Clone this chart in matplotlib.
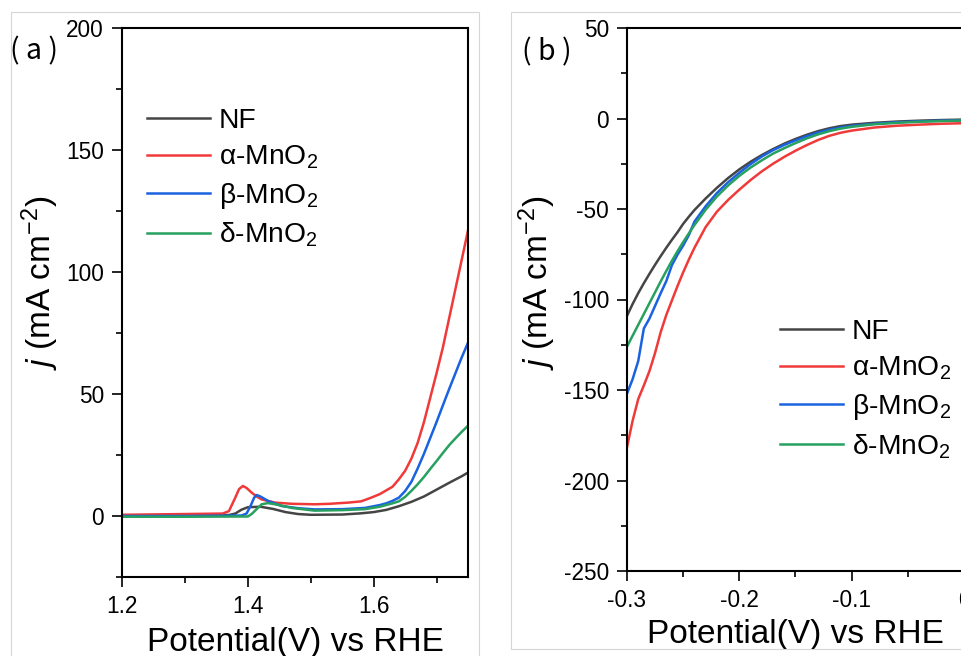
import matplotlib
matplotlib.use('Agg')
import matplotlib.pyplot as plt
from matplotlib.patches import Rectangle

plt.rcParams['font.family'] = ['Liberation Sans', 'DejaVu Sans']
plt.rcParams['mathtext.fontset'] = 'custom'
plt.rcParams['mathtext.rm'] = 'Liberation Sans'
plt.rcParams['mathtext.it'] = 'Liberation Sans:italic'

labels = ['NF', 'α-MnO$_2$', 'β-MnO$_2$', 'δ-MnO$_2$']
colors = ['#454545', '#f03a3a', '#1a62e0', '#27a060']

# (a) OER polarisation curves
oer_nf_x = [1.20, 1.30, 1.37, 1.38, 1.39, 1.40, 1.42, 1.44, 1.46, 1.48, 1.50, 1.55, 1.58,
            1.60, 1.62, 1.64, 1.66, 1.68, 1.70, 1.72, 1.74, 1.75]
oer_nf_y = [0.2, 0.3, 0.4, 1.0, 2.6, 3.6, 3.8, 2.9, 1.6, 0.8, 0.5, 0.6, 1.1,
            1.6, 2.5, 4.0, 5.8, 8.0, 10.8, 13.6, 16.3, 17.8]

oer_a_x = [1.20, 1.30, 1.36, 1.37, 1.38, 1.386, 1.392, 1.398, 1.406, 1.414, 1.422, 1.443, 1.47,
           1.506, 1.53, 1.56, 1.58, 1.596, 1.61, 1.63, 1.64, 1.65, 1.66, 1.67, 1.68, 1.69,
           1.70, 1.71, 1.72, 1.73, 1.74, 1.75]
oer_a_y = [0.5, 0.8, 1.0, 2.0, 7.5, 11.0, 12.3, 11.5, 9.6, 8.0, 6.8, 5.5, 5.0,
           4.8, 5.0, 5.5, 6.0, 7.5, 9.0, 12.0, 15.0, 18.5, 23.5, 30.0, 38.5, 48.5,
           58.5, 69.0, 81.0, 93.0, 105.0, 117.0]

oer_b_x = [1.20, 1.30, 1.39, 1.398, 1.405, 1.41, 1.414, 1.42, 1.432, 1.4535, 1.48, 1.506, 1.55,
           1.586, 1.61, 1.62, 1.63, 1.64, 1.65, 1.66, 1.67, 1.68, 1.69, 1.70, 1.71, 1.72,
           1.73, 1.74, 1.75]
oer_b_y = [0.0, 0.0, 0.2, 1.0, 4.5, 7.5, 8.6, 8.0, 6.2, 4.1, 3.2, 2.7, 2.8,
           3.3, 4.5, 5.2, 6.2, 7.5, 10.2, 14.0, 19.5, 25.5, 32.0, 38.5, 45.3, 52.0,
           58.5, 65.0, 71.0]

oer_d_x = [1.20, 1.30, 1.40, 1.406, 1.414, 1.422, 1.432, 1.45, 1.47, 1.506, 1.55, 1.586, 1.61,
           1.62, 1.63, 1.64, 1.65, 1.66, 1.67, 1.68, 1.69, 1.70, 1.71, 1.72, 1.73, 1.74, 1.75]
oer_d_y = [-0.3, -0.3, -0.2, 0.8, 2.8, 4.8, 5.3, 4.5, 3.3, 2.2, 2.4, 2.8, 3.8,
           4.5, 5.2, 6.0, 7.8, 10.3, 13.0, 16.0, 19.3, 22.5, 25.8, 29.0, 31.8, 34.5, 37.0]

# (b) HER polarisation curves
her_x = [-0.300, -0.295, -0.290, -0.285, -0.280, -0.275, -0.270, -0.265, -0.260, -0.255,
         -0.250, -0.245, -0.240, -0.230, -0.220, -0.210, -0.200, -0.190, -0.180, -0.170,
         -0.160, -0.150, -0.140, -0.130, -0.120, -0.110, -0.100, -0.080, -0.060, -0.040,
         -0.020, 0.000]
her_nf = [-109, -102.5, -96.5, -91, -85.8, -80.8, -76, -71.4, -67, -62.8,
          -58.2, -54.3, -50.6, -44.2, -38.3, -32.9, -28.1, -23.9, -20.2, -16.9,
          -13.9, -11.3, -9.0, -7.0, -5.4, -4.2, -3.4, -2.4, -1.7, -1.2,
          -0.85, -0.6]
her_a = [-181.6, -167, -155, -147.5, -139.5, -129.5, -118, -108.5, -100.5, -92.5,
         -85, -78, -71.5, -60, -51.5, -45, -39.3, -34, -29.2, -25,
         -21.2, -17.8, -14.7, -11.9, -9.6, -7.9, -6.7, -5.0, -4.0, -3.4,
         -2.9, -2.6]
her_b = [-152, -144, -134, -116, -110.5, -103.5, -96.5, -89.8, -81, -75.2,
         -70.2, -64.5, -57, -48.5, -41.2, -35.2, -30, -25.2, -21, -17.5,
         -14.6, -12.1, -9.8, -7.8, -6.2, -5.0, -4.1, -2.9, -2.1, -1.6,
         -1.2, -1.0]
her_d = [-126, -120, -114, -108, -102, -96, -90, -84.2, -78.6, -73.3,
         -68.3, -63.5, -58.9, -50.4, -43.1, -37, -31.7, -27.1, -23.1, -19.4,
         -16.4, -13.6, -11.0, -8.8, -7.0, -5.6, -4.6, -3.2, -2.4, -1.8,
         -1.4, -1.1]


def style_axes(ax):
    for s in ax.spines.values():
        s.set_linewidth(1.5)
    ax.tick_params(which='both', direction='out', top=False, right=False,
                   labelsize=16.3, width=1.2)
    ax.tick_params(which='major', length=7, pad=6)
    ax.tick_params(which='minor', length=4)


fig = plt.figure(figsize=(9.62, 6.56), dpi=100)

# light grey panel frames
fig.add_artist(Rectangle((11 / 962, -0.05), 468 / 962, 644 / 656 + 0.05, transform=fig.transFigure,
                         fill=False, edgecolor='#d6d6d6', linewidth=0.8))
fig.add_artist(Rectangle((511 / 962, 7 / 656), 0.6, 637 / 656, transform=fig.transFigure,
                         fill=False, edgecolor='#d6d6d6', linewidth=0.8))

ax1 = fig.add_axes([122 / 962, 79 / 656, 346 / 962, 549 / 656])
for xs, ys, lab, c in zip([oer_nf_x, oer_a_x, oer_b_x, oer_d_x],
                          [oer_nf_y, oer_a_y, oer_b_y, oer_d_y], labels, colors):
    ax1.plot(xs, ys, color=c, linewidth=1.8, label=lab)
ax1.set_xlim(1.2, 1.75)
ax1.set_ylim(-25, 200)
ax1.set_xticks([1.2, 1.4, 1.6])
ax1.set_xticks([1.3, 1.5, 1.7], minor=True)
ax1.set_yticks([0, 50, 100, 150, 200])
ax1.set_yticks([-25, 25, 75, 125, 175], minor=True)
style_axes(ax1)
ax1.set_xlabel('Potential(V) vs RHE', fontsize=24)
ax1.set_ylabel('$j$ (mA cm$^{-2}$)', fontsize=24)
ax1.yaxis.set_label_coords(-0.176, 0.535)
ax1.xaxis.set_label_coords(0.5, -0.0905)
ax1.xaxis.label.set_va('top')
ax1.legend(loc='upper left', bbox_to_anchor=(0.072, 0.855), frameon=False, fontsize=20.3,
           handlelength=2.25, handletextpad=0.3, labelspacing=0.35, borderpad=0, borderaxespad=0)
fig.text(34 / 962, 1 - 51 / 656, '( a )', fontsize=20.5, ha='center', va='center',
         family=['Noto Sans CJK SC', 'DejaVu Sans'])

ax2 = fig.add_axes([627 / 962, 85 / 656, 337 / 962, 543 / 656])
for ys, lab, c in zip([her_nf, her_a, her_b, her_d], labels, colors):
    ax2.plot(her_x, ys, color=c, linewidth=1.8, label=lab)
ax2.set_xlim(-0.3, 0.0)
ax2.set_ylim(-250, 50)
ax2.set_xticks([-0.3, -0.2, -0.1, 0.0])
ax2.set_xticks([-0.25, -0.15, -0.05], minor=True)
ax2.set_xticklabels(['-0.3', '-0.2', '-0.1', '0'])
ax2.set_yticks([-250, -200, -150, -100, -50, 0, 50])
ax2.set_yticks([-225, -175, -125, -75, -25, 25], minor=True)
ax2.set_yticklabels(['-250', '-200', '-150', '-100', '-50', '0', '50'])
style_axes(ax2)
ax2.set_xlabel('Potential(V) vs RHE', fontsize=24)
ax2.set_ylabel('$j$ (mA cm$^{-2}$)', fontsize=24)
ax2.yaxis.set_label_coords(-0.205, 0.53)
ax2.xaxis.set_label_coords(0.5, -0.089)
ax2.xaxis.label.set_va('top')
ax2.legend(loc='upper left', bbox_to_anchor=(0.454, 0.464), frameon=False, fontsize=20.3,
           handlelength=2.25, handletextpad=0.3, labelspacing=0.35, borderpad=0, borderaxespad=0)
fig.text(547 / 962, 1 - 52 / 656, '( b )', fontsize=20.5, ha='center', va='center',
         family=['Noto Sans CJK SC', 'DejaVu Sans'])

plt.savefig('out.png', dpi=100)
plt.close()
